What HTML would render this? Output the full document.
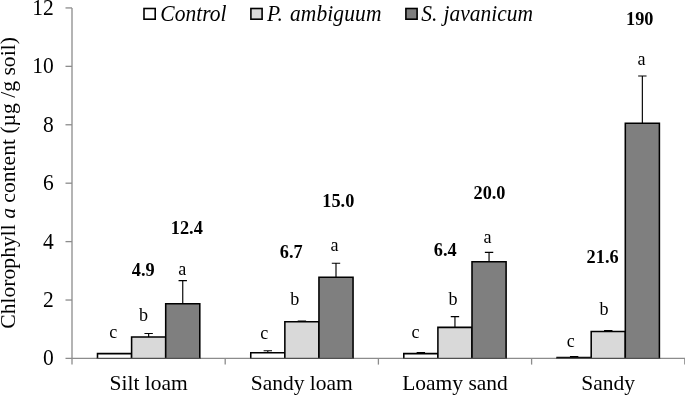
<!DOCTYPE html>
<html><head><meta charset="utf-8"><title>chart</title>
<style>
html,body{margin:0;padding:0;background:#fff;}
body{width:685px;height:395px;overflow:hidden;font-family:"Liberation Serif",serif;}
svg{display:block;will-change:transform;}
text{font-family:"Liberation Serif",serif;fill:#000;}
</style></head><body>
<svg width="685" height="395" viewBox="0 0 685 395">
<rect width="685" height="395" fill="#fff"/>

<g stroke="#8c8c8c" stroke-width="1.3" fill="none">
<line x1="72" y1="7.9" x2="72" y2="364.6"/>
<line x1="65.5" y1="358.45" x2="685" y2="358.45"/>
<line x1="65.5" y1="300.03" x2="72" y2="300.03"/>
<line x1="65.5" y1="241.61" x2="72" y2="241.61"/>
<line x1="65.5" y1="183.19" x2="72" y2="183.19"/>
<line x1="65.5" y1="124.77" x2="72" y2="124.77"/>
<line x1="65.5" y1="66.35" x2="72" y2="66.35"/>
<line x1="65.5" y1="7.93" x2="72" y2="7.93"/>
<line x1="225.2" y1="358.45" x2="225.2" y2="364.6"/>
<line x1="378.4" y1="358.45" x2="378.4" y2="364.6"/>
<line x1="531.6" y1="358.45" x2="531.6" y2="364.6"/>
<line x1="684.8" y1="358.45" x2="684.8" y2="364.6"/>
</g>
<text transform="translate(53.8,365.35) scale(1,1.03)" x="0" y="0" font-size="21.5" text-anchor="end">0</text>
<text transform="translate(53.8,306.93) scale(1,1.03)" x="0" y="0" font-size="21.5" text-anchor="end">2</text>
<text transform="translate(53.8,248.51) scale(1,1.03)" x="0" y="0" font-size="21.5" text-anchor="end">4</text>
<text transform="translate(53.8,190.09) scale(1,1.03)" x="0" y="0" font-size="21.5" text-anchor="end">6</text>
<text transform="translate(53.8,131.67) scale(1,1.03)" x="0" y="0" font-size="21.5" text-anchor="end">8</text>
<text transform="translate(53.8,73.25) scale(1,1.03)" x="0" y="0" font-size="21.5" text-anchor="end">10</text>
<text transform="translate(53.8,14.83) scale(1,1.03)" x="0" y="0" font-size="21.5" text-anchor="end">12</text>
<rect x="97.50" y="353.62" width="34.1" height="4.68" fill="#ffffff"/>
<path d="M97.50 358.6V353.62H131.60V358.6" fill="none" stroke="#000" stroke-width="1.55"/>
<path d="M148.65 337.00V333.50M144.45 333.50H152.85" stroke="#000" stroke-width="1.15" fill="none"/>
<rect x="131.60" y="337.00" width="34.1" height="21.30" fill="#d9d9d9"/>
<path d="M131.60 358.6V337.00H165.70V358.6" fill="none" stroke="#000" stroke-width="1.55"/>
<path d="M182.75 303.75V280.56M178.55 280.56H186.95" stroke="#000" stroke-width="1.15" fill="none"/>
<rect x="165.70" y="303.75" width="34.1" height="54.55" fill="#7f7f7f"/>
<path d="M165.70 358.6V303.75H199.80V358.6" fill="none" stroke="#000" stroke-width="1.55"/>
<line x1="96.80" y1="358.45" x2="200.50" y2="358.45" stroke="#505050" stroke-width="1.3"/>
<path d="M267.80 352.75V350.71M263.60 350.71H272.00" stroke="#000" stroke-width="1.15" fill="none"/>
<rect x="250.75" y="352.75" width="34.1" height="5.55" fill="#ffffff"/>
<path d="M250.75 358.6V352.75H284.85V358.6" fill="none" stroke="#000" stroke-width="1.55"/>
<path d="M301.90 321.83V321.10M297.70 321.10H306.10" stroke="#000" stroke-width="1.15" fill="none"/>
<rect x="284.85" y="321.83" width="34.1" height="36.47" fill="#d9d9d9"/>
<path d="M284.85 358.6V321.83H318.95V358.6" fill="none" stroke="#000" stroke-width="1.55"/>
<path d="M336.00 277.21V263.21M331.80 263.21H340.20" stroke="#000" stroke-width="1.15" fill="none"/>
<rect x="318.95" y="277.21" width="34.1" height="81.09" fill="#7f7f7f"/>
<path d="M318.95 358.6V277.21H353.05V358.6" fill="none" stroke="#000" stroke-width="1.55"/>
<line x1="250.05" y1="358.45" x2="353.75" y2="358.45" stroke="#505050" stroke-width="1.3"/>
<path d="M420.85 353.62V352.46M416.65 352.46H425.05" stroke="#000" stroke-width="1.15" fill="none"/>
<rect x="403.80" y="353.62" width="34.1" height="4.68" fill="#ffffff"/>
<path d="M403.80 358.6V353.62H437.90V358.6" fill="none" stroke="#000" stroke-width="1.55"/>
<path d="M454.95 327.38V316.58M450.75 316.58H459.15" stroke="#000" stroke-width="1.15" fill="none"/>
<rect x="437.90" y="327.38" width="34.1" height="30.93" fill="#d9d9d9"/>
<path d="M437.90 358.6V327.38H472.00V358.6" fill="none" stroke="#000" stroke-width="1.55"/>
<path d="M489.05 261.75V252.42M484.85 252.42H493.25" stroke="#000" stroke-width="1.15" fill="none"/>
<rect x="472.00" y="261.75" width="34.1" height="96.55" fill="#7f7f7f"/>
<path d="M472.00 358.6V261.75H506.10V358.6" fill="none" stroke="#000" stroke-width="1.55"/>
<line x1="403.10" y1="358.45" x2="506.80" y2="358.45" stroke="#505050" stroke-width="1.3"/>
<path d="M574.15 357.42V356.63M569.95 356.63H578.35" stroke="#000" stroke-width="1.15" fill="none"/>
<rect x="557.10" y="357.42" width="34.1" height="0.88" fill="#ffffff"/>
<path d="M557.10 358.6V357.42H591.20V358.6" fill="none" stroke="#000" stroke-width="1.55"/>
<path d="M608.25 331.46V330.58M604.05 330.58H612.45" stroke="#000" stroke-width="1.15" fill="none"/>
<rect x="591.20" y="331.46" width="34.1" height="26.84" fill="#d9d9d9"/>
<path d="M591.20 358.6V331.46H625.30V358.6" fill="none" stroke="#000" stroke-width="1.55"/>
<path d="M642.35 123.21V75.96M638.15 75.96H646.55" stroke="#000" stroke-width="1.15" fill="none"/>
<rect x="625.30" y="123.21" width="34.1" height="235.09" fill="#7f7f7f"/>
<path d="M625.30 358.6V123.21H659.40V358.6" fill="none" stroke="#000" stroke-width="1.55"/>
<line x1="556.40" y1="358.45" x2="660.10" y2="358.45" stroke="#505050" stroke-width="1.3"/>
<text transform="translate(113.3,337.7) scale(1,1.035)" x="0" y="0" font-size="18.1" text-anchor="middle">c</text>
<text transform="translate(143.4,321.4) scale(1,1.035)" x="0" y="0" font-size="18.1" text-anchor="middle">b</text>
<text transform="translate(182.2,274.5) scale(1,1.035)" x="0" y="0" font-size="18.1" text-anchor="middle">a</text>
<text transform="translate(264.2,338.9) scale(1,1.035)" x="0" y="0" font-size="18.1" text-anchor="middle">c</text>
<text transform="translate(294.7,304.5) scale(1,1.035)" x="0" y="0" font-size="18.1" text-anchor="middle">b</text>
<text transform="translate(334.5,250.9) scale(1,1.035)" x="0" y="0" font-size="18.1" text-anchor="middle">a</text>
<text transform="translate(415.5,337.6) scale(1,1.035)" x="0" y="0" font-size="18.1" text-anchor="middle">c</text>
<text transform="translate(452.9,304.5) scale(1,1.035)" x="0" y="0" font-size="18.1" text-anchor="middle">b</text>
<text transform="translate(487.4,242.8) scale(1,1.035)" x="0" y="0" font-size="18.1" text-anchor="middle">a</text>
<text transform="translate(570.7,347.3) scale(1,1.035)" x="0" y="0" font-size="18.1" text-anchor="middle">c</text>
<text transform="translate(604.1,315.1) scale(1,1.035)" x="0" y="0" font-size="18.1" text-anchor="middle">b</text>
<text transform="translate(641.5,64.9) scale(1,1.035)" x="0" y="0" font-size="18.1" text-anchor="middle">a</text>
<text x="143.3" y="276.0" font-size="18.3" font-weight="bold" text-anchor="middle">4.9</text>
<text x="186.8" y="234.4" font-size="18.3" font-weight="bold" text-anchor="middle">12.4</text>
<text x="291.3" y="257.8" font-size="18.3" font-weight="bold" text-anchor="middle">6.7</text>
<text x="338.3" y="206.7" font-size="18.3" font-weight="bold" text-anchor="middle">15.0</text>
<text x="445.3" y="255.6" font-size="18.3" font-weight="bold" text-anchor="middle">6.4</text>
<text x="489.5" y="198.6" font-size="18.3" font-weight="bold" text-anchor="middle">20.0</text>
<text x="602.6" y="262.8" font-size="18.3" font-weight="bold" text-anchor="middle">21.6</text>
<text x="639.8" y="24.5" font-size="18.3" font-weight="bold" text-anchor="middle">190</text>
<text transform="translate(148.6,389.8) scale(1,1.02)" x="0" y="0" font-size="21.5" text-anchor="middle">Silt loam</text>
<text transform="translate(301.8,389.8) scale(1,1.02)" x="0" y="0" font-size="21.5" text-anchor="middle">Sandy loam</text>
<text transform="translate(455.0,389.8) scale(1,1.02)" x="0" y="0" font-size="21.5" text-anchor="middle">Loamy sand</text>
<text transform="translate(608.2,389.8) scale(1,1.02)" x="0" y="0" font-size="21.5" text-anchor="middle">Sandy</text>
<rect x="144.0" y="8.5" width="11.2" height="10.7" fill="#ffffff" stroke="#000" stroke-width="1.6"/>
<text transform="translate(160.3,21.3) scale(1,1.08)" x="0" y="0" font-size="21.5" font-style="italic" word-spacing="0" letter-spacing="0.03">Control</text>
<rect x="250.9" y="8.5" width="11.2" height="10.7" fill="#d9d9d9" stroke="#000" stroke-width="1.6"/>
<text transform="translate(267,21.3) scale(1,1.08)" x="0" y="0" font-size="21.5" font-style="italic" word-spacing="1.6" letter-spacing="0.1">P. ambiguum</text>
<rect x="405.9" y="8.5" width="11.2" height="10.7" fill="#7f7f7f" stroke="#000" stroke-width="1.6"/>
<text transform="translate(421.3,21.3) scale(1,1.08)" x="0" y="0" font-size="21.5" font-style="italic" word-spacing="0.8" letter-spacing="0">S. javanicum</text>
<text transform="translate(15.0,328.7) rotate(-90)" font-size="21.62" x="0" y="0">Chlorophyll <tspan font-style="italic">a</tspan> content (µg /g soil)</text>
</svg></body></html>
